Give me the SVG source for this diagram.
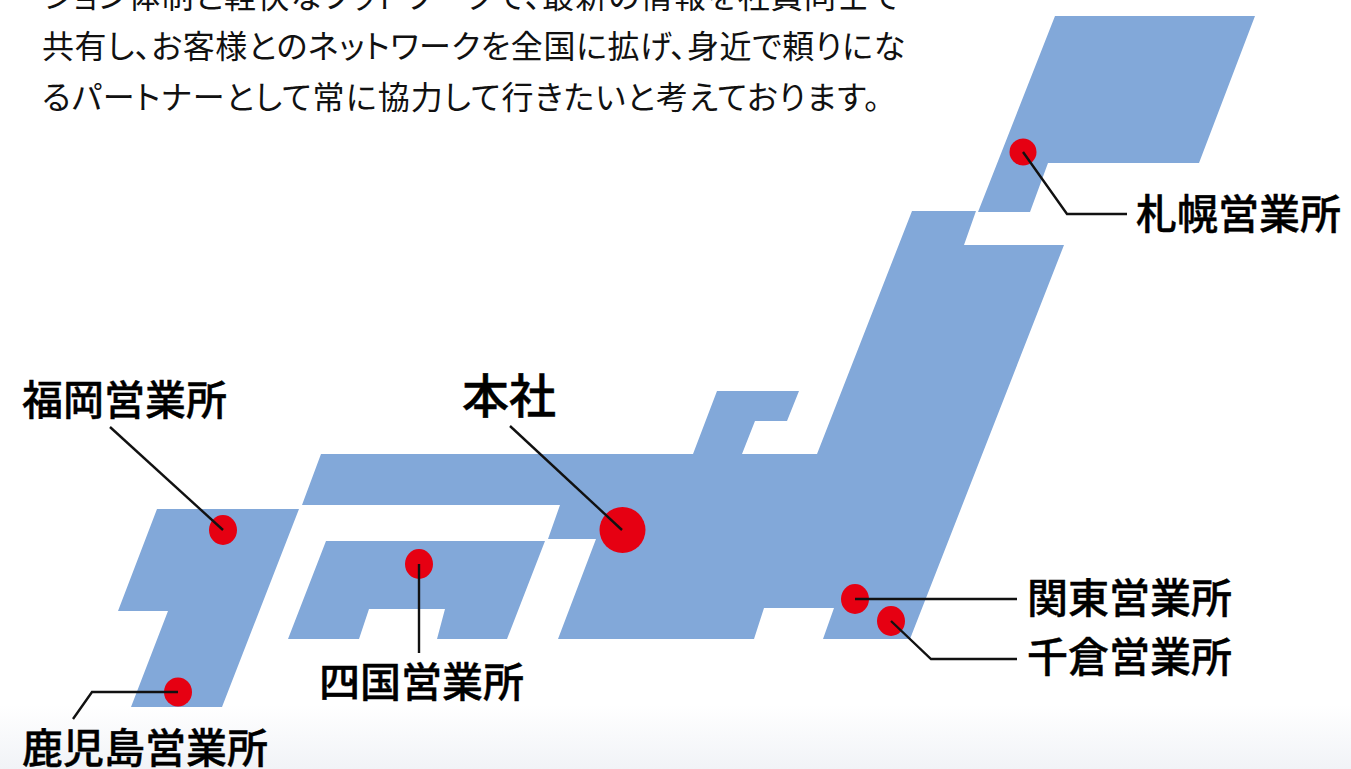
<svg xmlns="http://www.w3.org/2000/svg" width="1351" height="769" viewBox="0 0 1351 769">
<style>
text{font-family:"Noto Sans CJK JP","Noto Sans",sans-serif;fill:#000}
.body{font-size:32px;font-weight:400;fill:#111;font-feature-settings:"palt"}
.label{font-size:41px;font-weight:500;stroke:#000;stroke-width:.4}
.hq{font-size:47px;font-weight:500;stroke:#000;stroke-width:.5}
.land{fill:#82a8d9}
.dot{fill:#e60012}
.line{fill:none;stroke:#111;stroke-width:2.4}
</style>
<defs>
<linearGradient id="bg" x1="0" y1="0" x2="0" y2="1">
<stop offset="0" stop-color="#ffffff"/>
<stop offset="1" stop-color="#f1f3f7"/>
</linearGradient>
</defs>
<rect width="1351" height="769" fill="#fff"/>
<rect y="705" width="1351" height="64" fill="url(#bg)"/>
<g id="intro">
<text class="body" x="43" y="8" textLength="857" lengthAdjust="spacing">ション体制と軽快なフットワークで、最新の情報を社員同士で</text>
<text class="body" x="42" y="58" textLength="863" lengthAdjust="spacing">共有し、お客様とのネットワークを全国に拡げ、身近で頼りにな</text>
<text class="body" x="42" y="109" textLength="838" lengthAdjust="spacing">るパートナーとして常に協力して行きたいと考えております。</text>
</g>
<g id="map">
<polygon id="hokkaido" class="land" points="1055,16 1255,16 1199,163 1048,163 1030,212 978,212"/>
<polygon id="honshu" class="land" points="912,211 976,211 964,245 1064,245 910,639 823,639 834,608 764,608 754,639 558,639 596,539 548,539 560,505 302,505 321,454 693,454 717,391 799,391 787,421 755,421 742,454 817,454"/>
<polygon id="shikoku" class="land" points="326,541 545,541 507,639 437,639 445,609 369,609 359,639 288,639"/>
<polygon id="kyushu" class="land" points="157,509 299,509 222,707 131,707 168,611 118,611"/>
</g>
<g id="node-sapporo"><ellipse class="dot" cx="1023" cy="152" rx="13.5" ry="13.5"/><text class="label" x="1136" y="229">札幌営業所</text></g>
<g id="node-fukuoka"><ellipse class="dot" cx="223" cy="530" rx="14" ry="15"/><text class="label" x="22" y="415">福岡営業所</text></g>
<g id="node-honsha"><ellipse class="dot" cx="622.500" cy="530" rx="23" ry="23"/><text class="hq" x="462" y="413">本社</text></g>
<g id="node-shikoku"><ellipse class="dot" cx="419" cy="564" rx="14" ry="15"/><text class="label" x="319" y="697">四国営業所</text></g>
<g id="node-kagoshima"><ellipse class="dot" cx="178" cy="692" rx="14" ry="14.500"/><text class="label" x="22" y="763">鹿児島営業所</text></g>
<g id="node-kanto"><ellipse class="dot" cx="855" cy="599" rx="14" ry="15"/><text class="label" x="1027" y="613">関東営業所</text></g>
<g id="node-chiba"><ellipse class="dot" cx="891" cy="621" rx="14" ry="15"/><text class="label" x="1027" y="672">千倉営業所</text></g>
<g id="connectors">
<polyline class="line" points="1023,152 1067,214 1127,214"/>
<polyline class="line" points="110,427 223,530"/>
<polyline class="line" points="510,426 622,530"/>
<polyline class="line" points="419,564 419,653"/>
<polyline class="line" points="178,692 92,692 73,719"/>
<polyline class="line" points="855,599 1017,599"/>
<polyline class="line" points="891,621 931,659 1017,659"/>
</g>
</svg>
